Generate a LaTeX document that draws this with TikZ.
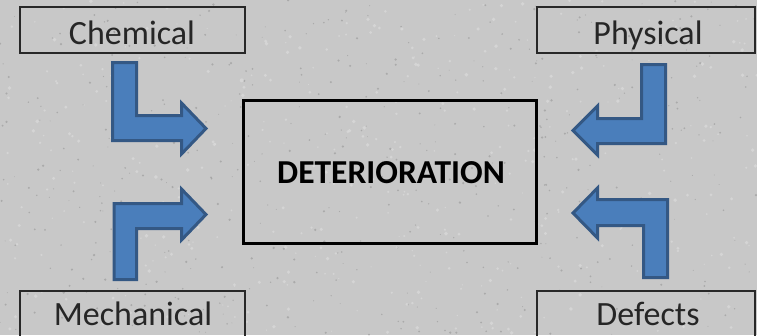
\documentclass[tikz,border=0pt]{standalone}
\usepackage{fontspec}
\setmainfont{Carlito}
\definecolor{bg}{RGB}{200,200,200}
\definecolor{speck}{RGB}{150,150,150}
\definecolor{speckl}{RGB}{222,222,222}
\definecolor{arrfill}{RGB}{74,126,187}
\definecolor{arrline}{RGB}{52,88,132}
\definecolor{boxline}{RGB}{40,40,40}
\tikzset{
  labelbox/.style={draw=boxline, line width=1.8pt},
  mainbox/.style={draw=black, line width=3pt},
  blockarrow/.style={fill=arrfill, draw=arrline, line width=3pt, line join=miter},
  labeltext/.style={font=\fontsize{34}{38}\selectfont, text=black!85, anchor=base, inner sep=0pt},
  maintext/.style={font=\fontsize{33.5}{38}\selectfont\bfseries, text=black, anchor=center, inner sep=0pt},
}
\begin{document}
\begin{tikzpicture}[x=1pt,y=-1pt]
\useasboundingbox (0,0) rectangle (757,335);
\fill[bg] (0,0) rectangle (757,335);
\pgfmathsetseed{7}
\foreach \i in {1,...,500}{
  \pgfmathsetmacro{\xx}{rnd*757}
  \pgfmathsetmacro{\yy}{rnd*335}
  \pgfmathsetmacro{\rr}{0.4+rnd*0.9}
  \fill[speck, opacity=0.6] (\xx,\yy) circle[radius=\rr];
}
\foreach \i in {1,...,400}{
  \pgfmathsetmacro{\xx}{rnd*757}
  \pgfmathsetmacro{\yy}{rnd*335}
  \pgfmathsetmacro{\rr}{0.6+rnd*1.4}
  \fill[speckl, opacity=0.6] (\xx,\yy) circle[radius=\rr];
}
% label boxes
\draw[labelbox] (20,7) rectangle (245,53);
\draw[labelbox] (537,7) rectangle (755,53);
\draw[labelbox] (20,291) rectangle (245,340);
\draw[labelbox] (537,291) rectangle (755,340);
\node[labeltext] (chem) at (132,44.5) {Chemical};
\node[labeltext] (phys) at (648,44.5) {Physical};
\node[labeltext] (mech) at (133,325.5) {Mechanical};
\node[labeltext] (def) at (648,325.5) {Defects};
% main box
\draw[mainbox] (243,100) rectangle (536,243);
\node[maintext] (det) at (391,173) {DETERIORATION};
% arrows
\draw[blockarrow] (112.5,62.5) -- (136.5,62.5) -- (136.5,115.5) -- (181.5,115.5) -- (181.5,103) -- (206,128.5) -- (181.5,154) -- (181.5,140.5) -- (112.5,140.5) -- cycle;
\draw[blockarrow] (114,279.5) -- (136.5,279.5) -- (136.5,228.5) -- (181.5,228.5) -- (181.5,240) -- (206,214.5) -- (181.5,189) -- (181.5,203.5) -- (114,203.5) -- cycle;
\draw[blockarrow] (665.5,64.5) -- (641.5,64.5) -- (641.5,118.5) -- (597.5,118.5) -- (597.5,106) -- (573,130.5) -- (597.5,155) -- (597.5,143.5) -- (665.5,143.5) -- cycle;
\draw[blockarrow] (667.5,277.5) -- (643.5,277.5) -- (643.5,225.5) -- (597.5,225.5) -- (597.5,238) -- (573,213) -- (597.5,188) -- (597.5,199.5) -- (667.5,199.5) -- cycle;
\end{tikzpicture}
\end{document}
